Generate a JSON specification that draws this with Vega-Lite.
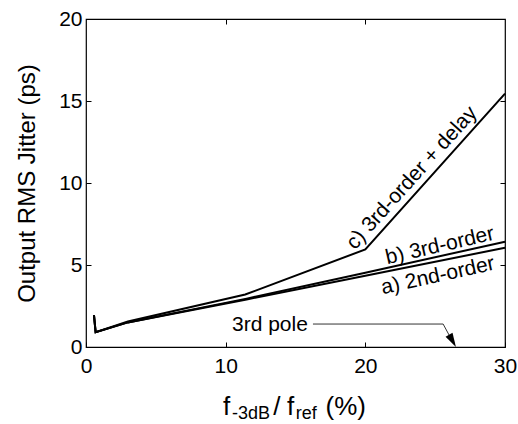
{
  "$schema": "https://vega.github.io/schema/vega-lite/v6.json",
  "width": 419,
  "height": 328,
  "autosize": "none",
  "padding": {"left": 86, "top": 19, "right": 13, "bottom": 77},
  "background": "white",
  "config": {
    "font": "Liberation Sans",
    "view": {"stroke": "black", "strokeWidth": 1.2},
    "axis": {"grid": false, "domain": false, "tickColor": "black", "tickSize": -5, "labelFlush": false, "labelColor": "black", "labelFontSize": 21, "labelFont": "Liberation Sans", "titleFont": "Liberation Sans", "titleFontSize": 24, "titleFontWeight": "normal", "titleColor": "black"}
  },
  "datasets": {
    "curves": [
      {"series": "a", "f": 0.57, "jitter": 1.95},
      {"series": "a", "f": 0.69, "jitter": 0.9},
      {"series": "a", "f": 3, "jitter": 1.5},
      {"series": "a", "f": 11.5, "jitter": 2.9},
      {"series": "a", "f": 20, "jitter": 4.35},
      {"series": "a", "f": 30, "jitter": 6.05},
      {"series": "b", "f": 0.57, "jitter": 1.95},
      {"series": "b", "f": 0.69, "jitter": 0.9},
      {"series": "b", "f": 3, "jitter": 1.5},
      {"series": "b", "f": 11.5, "jitter": 2.95},
      {"series": "b", "f": 20, "jitter": 4.53},
      {"series": "b", "f": 30, "jitter": 6.42},
      {"series": "c", "f": 0.57, "jitter": 1.95},
      {"series": "c", "f": 0.69, "jitter": 0.9},
      {"series": "c", "f": 3, "jitter": 1.55},
      {"series": "c", "f": 11.4, "jitter": 3.2},
      {"series": "c", "f": 20, "jitter": 5.95},
      {"series": "c", "f": 30, "jitter": 15.45}
    ],
    "labels": [
      {"label": "c) 3rd-order + delay", "f": 23.34, "jitter": 10.3, "angle": -48},
      {"label": "b) 3rd-order", "f": 25.34, "jitter": 6.16, "angle": -13},
      {"label": "a) 2nd-order", "f": 25.2, "jitter": 4.33, "angle": -12.5}
    ],
    "arrow": [
      {"f": 16.25, "jitter": 1.4},
      {"f": 25.57, "jitter": 1.4},
      {"f": 26.3, "jitter": 0.25}
    ],
    "arrowhead": [{"f": 26.24, "jitter": 0.37}],
    "pole": [{"label": "3rd pole", "f": 13.17, "jitter": 0.98}],
    "titleBig": [
      {"label": "f", "f": 9.81, "jitter": -4.15},
      {"label": "/", "f": 13.4, "jitter": -4.15},
      {"label": "f", "f": 14.4, "jitter": -4.15},
      {"label": "(%)", "f": 17.15, "jitter": -4.15}
    ],
    "titleSmall": [
      {"label": "-3dB", "f": 10.45, "jitter": -4.42},
      {"label": "ref", "f": 15.02, "jitter": -4.42}
    ]
  },
  "resolve": {"axis": {"x": "independent", "y": "independent"}},
  "layer": [
    {
      "data": {"name": "curves"},
      "mark": {"type": "line", "color": "black", "strokeWidth": 2},
      "encoding": {
        "x": {"field": "f", "type": "quantitative", "scale": {"domain": [0, 30], "nice": false}, "axis": {"orient": "bottom", "values": [0, 10, 20, 30], "title": null, "labelPadding": 13}},
        "y": {"field": "jitter", "type": "quantitative", "scale": {"domain": [0, 20], "nice": false}, "axis": {"orient": "left", "values": [0, 5, 10, 15, 20], "title": "Output RMS Jitter (ps)", "labelPadding": 9, "titlePadding": 19}},
        "detail": {"field": "series"}
      }
    },
    {
      "data": {"name": "labels"},
      "mark": {"type": "text", "fontSize": 21, "color": "black", "align": "center", "baseline": "middle"},
      "encoding": {
        "x": {"field": "f", "type": "quantitative", "scale": {"domain": [0, 30], "nice": false}, "axis": {"orient": "top", "values": [10, 20], "labels": false, "title": null}},
        "y": {"field": "jitter", "type": "quantitative", "scale": {"domain": [0, 20], "nice": false}, "axis": {"orient": "right", "values": [5, 10, 15], "labels": false, "title": null}},
        "text": {"field": "label"},
        "angle": {"field": "angle", "type": "quantitative", "scale": null}
      }
    },
    {
      "data": {"name": "arrow"},
      "mark": {"type": "line", "color": "#333333", "strokeWidth": 1},
      "encoding": {
        "x": {"field": "f", "type": "quantitative", "scale": {"domain": [0, 30], "nice": false}, "axis": null},
        "y": {"field": "jitter", "type": "quantitative", "scale": {"domain": [0, 20], "nice": false}, "axis": null}
      }
    },
    {
      "data": {"name": "arrowhead"},
      "mark": {"type": "point", "filled": true, "color": "black", "opacity": 1, "shape": "M-0.57,-1L0.57,-1L0,1Z", "size": 196, "angle": -29.5},
      "encoding": {
        "x": {"field": "f", "type": "quantitative", "scale": {"domain": [0, 30], "nice": false}, "axis": null},
        "y": {"field": "jitter", "type": "quantitative", "scale": {"domain": [0, 20], "nice": false}, "axis": null}
      }
    },
    {
      "data": {"name": "pole"},
      "mark": {"type": "text", "fontSize": 21, "color": "black", "align": "center", "baseline": "alphabetic"},
      "encoding": {
        "x": {"field": "f", "type": "quantitative", "scale": {"domain": [0, 30], "nice": false}, "axis": null},
        "y": {"field": "jitter", "type": "quantitative", "scale": {"domain": [0, 20], "nice": false}, "axis": null},
        "text": {"field": "label"}
      }
    },
    {
      "data": {"name": "titleBig"},
      "mark": {"type": "text", "fontSize": 26, "color": "black", "align": "left", "baseline": "alphabetic"},
      "encoding": {
        "x": {"field": "f", "type": "quantitative", "scale": {"domain": [0, 30], "nice": false}, "axis": null},
        "y": {"field": "jitter", "type": "quantitative", "scale": {"domain": [0, 20], "nice": false}, "axis": null},
        "text": {"field": "label"}
      }
    },
    {
      "data": {"name": "titleSmall"},
      "mark": {"type": "text", "fontSize": 18, "color": "black", "align": "left", "baseline": "alphabetic"},
      "encoding": {
        "x": {"field": "f", "type": "quantitative", "scale": {"domain": [0, 30], "nice": false}, "axis": null},
        "y": {"field": "jitter", "type": "quantitative", "scale": {"domain": [0, 20], "nice": false}, "axis": null},
        "text": {"field": "label"}
      }
    }
  ]
}
